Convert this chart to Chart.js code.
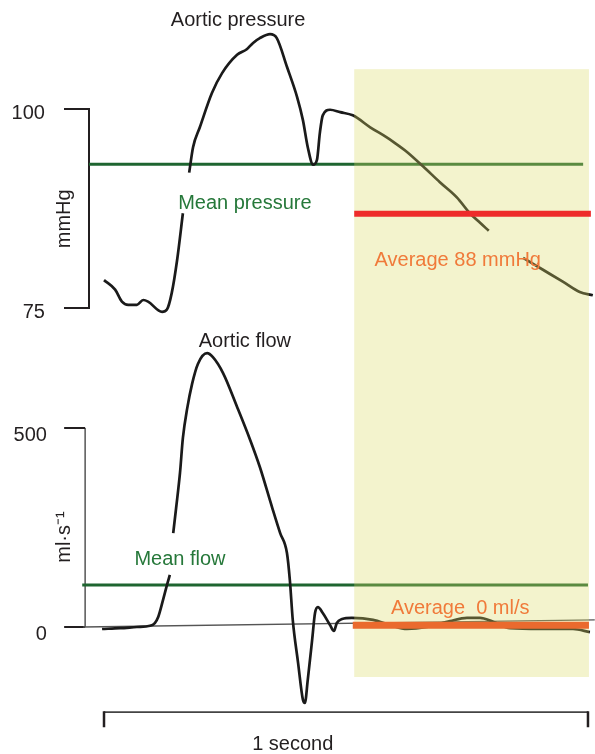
<!DOCTYPE html>
<html>
<head>
<meta charset="utf-8" />
<script src="https://cdn.jsdelivr.net/npm/chart.js@4.4.1/dist/chart.umd.min.js"></script>
<style>
  html, body { margin: 0; padding: 0; background: #fff; }
  canvas { display: block; }
</style>
</head>
<body>
<canvas id="aorta" width="595" height="754"></canvas>
<script>
// time in seconds (0 = left end of the "1 second" bar)
const PRESSURE_TIME = [0.000, 0.023, 0.037, 0.050, 0.068, 0.081, 0.091, 0.120, 0.130, 0.140, 0.151, 0.163, 0.170, 0.176, 0.184, 0.198, 0.223, 0.244, 0.275, 0.295, 0.308, 0.322, 0.343, 0.357, 0.378, 0.399, 0.411, 0.421, 0.432, 0.440, 0.446, 0.452, 0.467, 0.488, 0.514, 0.550, 0.585, 0.597, 0.626, 0.659, 0.694, 0.729, 0.756, 0.777, 0.795, 0.830, 0.866, 0.907, 0.948, 0.983, 1.010];
const PRESSURE_MMHG = [78.5, 77.3, 75.8, 75.4, 75.4, 76.0, 75.8, 74.5, 74.8, 76.9, 81.0, 86.9, null, 92.0, 95.2, 97.7, 102.0, 104.5, 106.8, 107.5, 108.3, 108.9, 109.4, 108.9, 105.3, 101.5, 98.6, 95.2, 93.0, 93.6, 97.0, 99.2, 99.9, 99.6, 99.2, 97.7, 96.4, 95.9, 94.6, 92.8, 90.8, 88.9, 86.9, 85.7, 84.7, null, 81.3, 79.8, 78.3, 77.0, 76.6];

const FLOW_TIME = [-0.004, 0.033, 0.068, 0.095, 0.105, 0.112, 0.122, 0.130, 0.136, 0.140, 0.143, 0.149, 0.157, 0.163, 0.172, 0.182, 0.194, 0.213, 0.225, 0.246, 0.275, 0.302, 0.322, 0.347, 0.364, 0.378, 0.384, 0.390, 0.401, 0.411, 0.415, 0.421, 0.430, 0.436, 0.442, 0.452, 0.467, 0.475, 0.481, 0.492, 0.512, 0.556, 0.591, 0.626, 0.667, 0.715, 0.750, 0.777, 0.804, 0.839, 0.901, 0.969, 1.004];
const FLOW_ML_S = [-5, -3, 0, 3, 10, 25, 68, 105, 131, null, 236, 299, 387, 475, 550, 611, 661, 688, 678, 638, 553, 470, 402, 302, 236, 186, 118, 18, -90, -183, -191, -133, -33, 35, 50, 35, 5, -10, 10, 20, 23, 18, 5, -5, 0, 15, 23, 23, 13, -3, -5, -5, -13];

const MEAN_PRESSURE = 93.05;
const MEAN_PRESSURE_SPAN = [-0.031, 0.990];
const AVERAGE_PRESSURE = 86.84;
const AVERAGE_PRESSURE_SPAN = [0.517, 1.006];

const MEAN_FLOW = 105.5;
const MEAN_FLOW_SPAN = [-0.045, 1.0];
const AVERAGE_FLOW = 4.3;
const AVERAGE_FLOW_SPAN = [0.514, 1.002];

const FLOW_BASELINE_TIME = [-0.043, 1.014];
const FLOW_BASELINE = [0, 18];

const PRESSURE_TICKS = [75, 100];
const FLOW_TICKS = [0, 500];
const SECOND_BAR = [0, 1];

// averaging window (shaded)
const WINDOW_TIME = [0.517, 1.002];
const WINDOW_TOP_MMHG = 105.0;
const WINDOW_BOTTOM_FLOW = -125.6;

const INK = "#231f20";
const GREEN = "#1e6530";
const GREEN_TEXT = "#26783a";
const FONT = '20px "Liberation Sans", Arial, Helvetica, sans-serif';

const pts = (xs, ys) => xs.map((x, i) => ({ x, y: ys[i] }));
const flat = (span, v) => span.map((x) => ({ x, y: v }));

const LABELS = [
  { text: "Aortic pressure", t: 0.277, axis: "yP", v: 110.4, color: INK },
  { text: "Mean pressure", t: 0.291, axis: "yP", v: 87.4, color: GREEN_TEXT },
  { text: "Average 88 mmHg", t: 0.731, axis: "yP", v: 80.3, color: "#f07a3a" },
  { text: "Aortic flow", t: 0.291, axis: "yF", v: 703, color: INK },
  { text: "Mean flow", t: 0.157, axis: "yF", v: 156, color: GREEN_TEXT },
  { text: "Average  0 ml/s", t: 0.736, axis: "yF", v: 33, color: "#f07a3a" },
  { text: "1 second", t: 0.39, axis: "yF", v: -309, color: INK },
];

const figurePlugin = {
  id: "figure",
  beforeDatasetsDraw(chart) {
    const { ctx } = chart;
    const x = chart.scales.x;
    const yP = chart.scales.yP;
    const yF = chart.scales.yF;
    ctx.save();
    ctx.lineCap = "butt";

    // pressure bracket axis
    const pX = x.getPixelForValue(-0.031);
    ctx.strokeStyle = INK;
    ctx.lineWidth = 2;
    ctx.beginPath();
    ctx.moveTo(pX - 25, yP.getPixelForValue(100));
    ctx.lineTo(pX, yP.getPixelForValue(100));
    ctx.lineTo(pX, yP.getPixelForValue(75));
    ctx.lineTo(pX - 25, yP.getPixelForValue(75));
    ctx.stroke();

    // flow axis
    const fX = x.getPixelForValue(-0.039);
    ctx.strokeStyle = "#555";
    ctx.lineWidth = 1.5;
    ctx.beginPath();
    ctx.moveTo(fX, yF.getPixelForValue(500));
    ctx.lineTo(fX, yF.getPixelForValue(0));
    ctx.stroke();
    ctx.strokeStyle = INK;
    ctx.lineWidth = 2;
    for (const v of FLOW_TICKS) {
      ctx.beginPath();
      ctx.moveTo(fX - 21, yF.getPixelForValue(v));
      ctx.lineTo(fX, yF.getPixelForValue(v));
      ctx.stroke();
    }

    // tick labels
    ctx.font = FONT;
    ctx.fillStyle = INK;
    ctx.textAlign = "right";
    ctx.textBaseline = "middle";
    const lx = x.getPixelForValue(-0.122);
    for (const v of PRESSURE_TICKS) ctx.fillText(String(v), lx, yP.getPixelForValue(v) + 5);
    for (const v of FLOW_TICKS) ctx.fillText(String(v), lx + 2, yF.getPixelForValue(v) + 7);

    // rotated unit labels
    const ux = x.getPixelForValue(-0.070);
    ctx.textAlign = "center";
    ctx.textBaseline = "alphabetic";
    for (const [txt, py] of [["mmHg", yP.getPixelForValue(86.2)], ["ml·s⁻¹", yF.getPixelForValue(226)]]) {
      ctx.save();
      ctx.translate(ux, py);
      ctx.rotate(-Math.PI / 2);
      ctx.fillText(txt, 0, 0);
      ctx.restore();
    }

    // 1 second bar
    const bY = yF.getPixelForValue(-214);
    const b0 = x.getPixelForValue(SECOND_BAR[0]);
    const b1 = x.getPixelForValue(SECOND_BAR[1]);
    ctx.strokeStyle = "#444";
    ctx.lineWidth = 1.8;
    ctx.beginPath();
    ctx.moveTo(b0, bY);
    ctx.lineTo(b1, bY);
    ctx.stroke();
    ctx.strokeStyle = INK;
    ctx.lineWidth = 2.5;
    ctx.beginPath();
    ctx.moveTo(b0, bY - 1);
    ctx.lineTo(b0, bY + 15);
    ctx.moveTo(b1, bY - 1);
    ctx.lineTo(b1, bY + 15);
    ctx.stroke();
    ctx.restore();
    this._shaded = false;
  },
  beforeDatasetDraw(chart, args) {
    const ds = chart.data.datasets[args.index];
    if (!ds.overlay || this._shaded) return;
    this._shaded = true;
    const { ctx } = chart;
    const x = chart.scales.x;
    const x0 = x.getPixelForValue(WINDOW_TIME[0]);
    const x1 = x.getPixelForValue(WINDOW_TIME[1]);
    const y0 = chart.scales.yP.getPixelForValue(WINDOW_TOP_MMHG);
    const y1 = chart.scales.yF.getPixelForValue(WINDOW_BOTTOM_FLOW);
    ctx.save();
    ctx.fillStyle = "rgba(218,218,100,0.32)";
    ctx.fillRect(x0, y0, x1 - x0, y1 - y0);
    ctx.restore();
  },
  afterDatasetsDraw(chart) {
    const { ctx } = chart;
    ctx.save();
    ctx.font = FONT;
    ctx.textAlign = "center";
    ctx.textBaseline = "alphabetic";
    for (const l of LABELS) {
      ctx.fillStyle = l.color;
      ctx.fillText(l.text, chart.scales.x.getPixelForValue(l.t), chart.scales[l.axis].getPixelForValue(l.v));
    }
    ctx.restore();
  },
};

const curve = { borderColor: "#1a1a1a", borderWidth: 2.7, cubicInterpolationMode: "monotone", spanGaps: false, order: 2 };

new Chart(document.getElementById("aorta"), {
  type: "line",
  data: {
    datasets: [
      { data: flat(AVERAGE_PRESSURE_SPAN, AVERAGE_PRESSURE), yAxisID: "yP", borderColor: "#ee2b2b", borderWidth: 6, order: 0, overlay: true },
      { data: flat(AVERAGE_FLOW_SPAN, AVERAGE_FLOW), yAxisID: "yF", borderColor: "#ea6a2e", borderWidth: 7, order: 0, overlay: true },
      { ...curve, data: pts(PRESSURE_TIME, PRESSURE_MMHG), yAxisID: "yP" },
      { ...curve, data: pts(FLOW_TIME, FLOW_ML_S), yAxisID: "yF" },
      { data: flat(MEAN_PRESSURE_SPAN, MEAN_PRESSURE), yAxisID: "yP", borderColor: GREEN, borderWidth: 3, order: 3 },
      { data: flat(MEAN_FLOW_SPAN, MEAN_FLOW), yAxisID: "yF", borderColor: GREEN, borderWidth: 3, order: 3 },
      { data: pts(FLOW_BASELINE_TIME, FLOW_BASELINE), yAxisID: "yF", borderColor: "#555", borderWidth: 1.3, order: 4 },
    ],
  },
  options: {
    responsive: false,
    animation: false,
    layout: { padding: 0 },
    elements: { point: { radius: 0 }, line: { tension: 0 } },
    plugins: { legend: { display: false }, tooltip: { enabled: false } },
    scales: {
      x: { type: "linear", min: -0.2149, max: 1.0145, display: false },
      yP: { type: "linear", min: 18.97, max: 113.69, display: false },
      yF: { type: "linear", min: -319.1, max: 1575.4, display: false },
    },
  },
  plugins: [figurePlugin],
});
</script>
</body>
</html>
